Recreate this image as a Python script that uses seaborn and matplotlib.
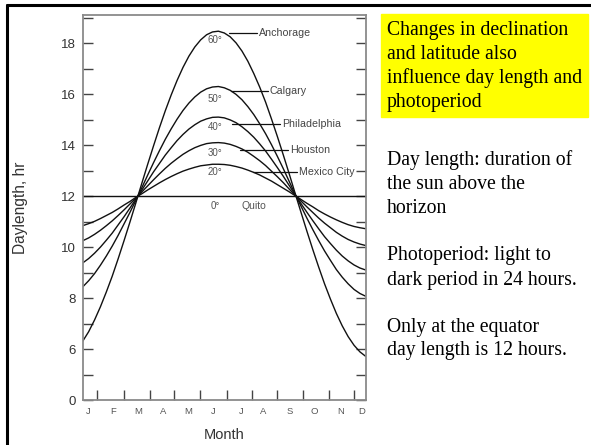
import numpy as np
import pandas as pd
import matplotlib.pyplot as plt
import matplotlib.lines as mlines
import seaborn as sns

# === data ===
# x position in axis units (left edge = 0, right edge = 12)
x_pos = [0, 0.25, 0.5, 0.75, 1, 1.25, 1.5, 1.75, 2, 2.25, 2.5, 2.75, 3, 3.25, 3.5, 3.75,
         4, 4.25, 4.5, 4.75, 5, 5.25, 5.5, 5.75, 6, 6.25, 6.5, 6.75, 7, 7.25, 7.5, 7.75,
         8, 8.25, 8.5, 8.75, 9, 9.25, 9.5, 9.75, 10, 10.25, 10.5, 10.75, 11, 11.25, 11.5, 11.75, 12]

lat_60 = [6.31, 6.68, 7.14, 7.66, 8.24, 8.86, 9.54, 10.25, 10.98, 11.73, 12.49, 13.24, 13.97,
          14.68, 15.35, 15.97, 16.54, 17.05, 17.49, 17.85, 18.13, 18.33, 18.44, 18.47, 18.40,
          18.25, 18.01, 17.69, 17.29, 16.81, 16.28, 15.69, 15.03, 14.34, 13.62, 12.88, 12.12,
          11.37, 10.63, 9.91, 9.22, 8.56, 7.96, 7.40, 6.91, 6.49, 6.15, 5.89, 5.71]
lat_50 = [8.44, 8.68, 8.96, 9.29, 9.65, 10.04, 10.46, 10.91, 11.36, 11.83, 12.32, 12.82, 13.31,
          13.78, 14.23, 14.64, 15.02, 15.36, 15.65, 15.89, 16.08, 16.21, 16.28, 16.30, 16.25,
          16.15, 15.99, 15.78, 15.51, 15.20, 14.84, 14.45, 14.02, 13.56, 13.08, 12.58, 12.08,
          11.61, 11.14, 10.69, 10.26, 9.85, 9.48, 9.12, 8.82, 8.56, 8.34, 8.18, 8.07]
lat_40 = [9.38, 9.55, 9.76, 10.00, 10.27, 10.55, 10.87, 11.19, 11.53, 11.88, 12.23, 12.59, 12.95,
          13.28, 13.61, 13.90, 14.18, 14.42, 14.63, 14.80, 14.94, 15.03, 15.09, 15.10, 15.07,
          14.99, 14.88, 14.72, 14.53, 14.31, 14.05, 13.77, 13.45, 13.12, 12.78, 12.42, 12.06,
          11.71, 11.37, 11.04, 10.72, 10.41, 10.14, 9.88, 9.65, 9.46, 9.30, 9.18, 9.10]
lat_30 = [10.25, 10.36, 10.50, 10.66, 10.84, 11.03, 11.24, 11.46, 11.69, 11.92, 12.16, 12.40, 12.64,
          12.87, 13.09, 13.29, 13.47, 13.64, 13.78, 13.90, 13.99, 14.06, 14.09, 14.10, 14.08,
          14.03, 13.95, 13.85, 13.72, 13.56, 13.39, 13.20, 12.98, 12.76, 12.53, 12.28, 12.04,
          11.81, 11.58, 11.36, 11.14, 10.94, 10.76, 10.58, 10.43, 10.30, 10.20, 10.12, 10.06]
lat_20 = [10.84, 10.92, 11.01, 11.12, 11.24, 11.36, 11.50, 11.65, 11.79, 11.95, 12.09, 12.24, 12.38,
          12.52, 12.65, 12.77, 12.88, 12.98, 13.06, 13.13, 13.19, 13.22, 13.25, 13.25, 13.24,
          13.21, 13.16, 13.10, 13.02, 12.93, 12.83, 12.71, 12.59, 12.45, 12.31, 12.17, 12.02,
          11.87, 11.72, 11.58, 11.43, 11.30, 11.18, 11.07, 10.97, 10.88, 10.81, 10.76, 10.72]
lat_0 = [12.0] * len(x_pos)

latitudes = ["60°", "50°", "40°", "30°", "20°", "0°"]
cities = ["Anchorage", "Calgary", "Philadelphia", "Houston", "Mexico City", "Quito"]

month_labels = ["J", "F", "M", "A", "M", "J", "J", "A", "S", "O", "N", "D"]
month_label_pos = [0.22, 1.27, 2.34, 3.40, 4.45, 5.53, 6.70, 7.65, 8.79, 9.83, 10.93, 11.82]
month_tick_pos = [0.61, 1.75, 2.85, 3.87, 4.97, 6.11, 7.17, 8.23, 9.33, 10.43, 11.49]

# the axis is broken: the bottom tick (4 h) is labelled "0"
y_major = [4, 6, 8, 10, 12, 14, 16, 18]
y_major_labels = ["0", "6", "8", "10", "12", "14", "16", "18"]
y_minor = [5, 7, 9, 11, 13, 15, 17, 19]

# label placement (degree label, leader line start/end, city text)
deg_label_y = [18.12, 15.80, 14.70, 13.69, 12.94, 11.62]
leader_y = [18.39, 16.12, 14.82, 13.80, 12.94]
leader_x0 = [6.21, 6.28, 6.33, 6.67, 7.22]
leader_x1 = [7.39, 7.85, 8.36, 8.70, 9.08]

# === build long table ===
series = [lat_60, lat_50, lat_40, lat_30, lat_20, lat_0]
df = pd.concat([pd.DataFrame({"x": x_pos, "hours": s, "lat": lat})
                for s, lat in zip(series, latitudes)])

# === plot ===
sns.set_style("white")
plt.rcParams["font.family"] = ["Liberation Sans", "DejaVu Sans"]

fig = plt.figure(figsize=(5.91, 4.45), dpi=100)
ax = fig.add_axes([0.140, 0.101, 0.479, 0.865])

sns.lineplot(data=df, x="x", y="hours", hue="lat", palette=["#111111"] * 6,
             linewidth=1.0, legend=False, ax=ax, sort=False)

ax.set_xlim(0, 12)
ax.set_ylim(4, 19.1)

for side in ["left", "right", "bottom", "top"]:
    ax.spines[side].set_color("#8a8a8a")
    ax.spines[side].set_linewidth(1.3)

# y ticks, both sides, inward
ax.set_yticks(y_major)
ax.set_yticklabels(y_major_labels)
ax.set_yticks(y_minor, minor=True)
ax.tick_params(axis="y", which="both", direction="in", left=True, right=True,
               length=7, width=1.0, color="#444444", labelsize=9.5,
               labelcolor="#333333", pad=5)

# x ticks: marks at month boundaries, letters in between
ax.set_xticks(month_tick_pos)
ax.set_xticklabels([""] * len(month_tick_pos))
ax.set_xticks(month_label_pos, minor=True)
ax.set_xticklabels(month_labels, minor=True)
ax.tick_params(axis="x", which="major", direction="in", bottom=True, top=False,
               length=7, width=1.0, color="#444444")
ax.tick_params(axis="x", which="minor", length=0, labelsize=6.8,
               labelcolor="#555555", pad=5)

ax.set_xlabel("Month", fontsize=10.5, color="#333333")
ax.set_ylabel("Daylength, hr", fontsize=11.2, color="#333333")
ax.xaxis.set_label_coords(0.5, -0.072)
ax.yaxis.set_label_coords(-0.195, 0.5)

# degree labels at the peaks
for lat, yy in zip(latitudes, deg_label_y):
    ax.text(5.61, yy, lat, ha="center", va="center", fontsize=7, color="#555555")
ax.text(6.72, deg_label_y[-1], cities[-1], ha="left", va="center",
        fontsize=7.5, color="#555555")

# city names with leader lines
for city, yy, x0, x1 in zip(cities[:-1], leader_y, leader_x0, leader_x1):
    ax.plot([x0, x1], [yy, yy], color="#111111", linewidth=0.9)
    ax.text(x1 + 0.08, yy, city, ha="left", va="center", fontsize=7.7, color="#444444")

# === slide text on the right ===
serif = ["Liberation Serif", "DejaVu Serif"]
box = plt.Rectangle((381 / 591, 1 - 117 / 445), 207 / 591, 103 / 445,
                    transform=fig.transFigure, color="#ffff00", zorder=0)
fig.patches.append(box)
yellow_text = ["Changes in declination", "and latitude also",
               "influence day length and", "photoperiod"]
for i, line in enumerate(yellow_text):
    fig.text(387 / 591, 1 - (35 + 24 * i) / 445, line, family=serif,
             fontsize=14.2, color="black", va="baseline")

body_text = [("Day length: duration of", 165), ("the sun above the", 189), ("horizon", 213),
             ("Photoperiod: light to", 260), ("dark period in 24 hours.", 285),
             ("Only at the equator", 332), ("day length is 12 hours.", 355)]
for line, yb in body_text:
    fig.text(387 / 591, 1 - yb / 445, line, family=serif, fontsize=14.2,
             color="black", va="baseline")

# slide frame (top and left edges)
fig.lines.append(mlines.Line2D([7 / 591, 1], [1 - 5 / 445, 1 - 5 / 445],
                               transform=fig.transFigure, color="black", linewidth=2.2))
fig.lines.append(mlines.Line2D([7 / 591, 7 / 591], [0, 1 - 5 / 445],
                               transform=fig.transFigure, color="black", linewidth=2.2))

fig.savefig("out.png", dpi=100)
